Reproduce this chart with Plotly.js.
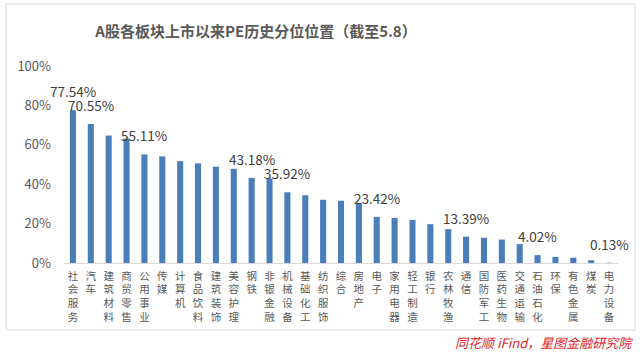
<!DOCTYPE html>
<html>
<head>
<meta charset="utf-8">
<script src="https://cdn.plot.ly/plotly-3.0.1.min.js"></script>
<style>
html,body{margin:0;padding:0;background:#fff;}
#chart{width:640px;height:354px;}
</style>
</head>
<body>
<div id="chart"></div>
<script>
// Data
const categories = ["社会服务","汽车","建筑材料","商贸零售","公用事业","传媒","计算机","食品饮料","建筑装饰","美容护理","钢铁","非银金融","机械设备","基础化工","纺织服饰","综合","房地产","电子","家用电器","轻工制造","银行","农林牧渔","通信","国防军工","医药生物","交通运输","石油石化","环保","有色金属","煤炭","电力设备"];
const peQuantile = [77.54,70.55,64.7,63.2,55.11,54.1,51.7,50.6,48.9,47.8,43.18,42.9,35.92,34.4,32.1,31.6,30.5,23.42,22.9,21.9,19.7,17.2,13.39,12.8,11.9,9.6,4.02,3.1,2.7,1.4,0.13];
const labeledCategories = ["社会服务","汽车","公用事业","钢铁","机械设备","电子","通信","石油石化","电力设备"];
const yTicks = [0,20,40,60,80,100];
const titleText = "A股各板块上市以来PE历史分位位置（截至5.8）";
const sourceText = "同花顺 iFind，星图金融研究院";

// Layout geometry (pixels)
const W = 640, H = 354;
const M = {l:64, r:22, t:66, b:91};
const pw = W - M.l - M.r, ph = H - M.t - M.b;
const px = x => (x - M.l) / pw;
const py = y => (H - M.b - y) / ph;

const FONT = '"Noto Sans CJK SC", "Noto Sans", sans-serif';

const annotations = labeledCategories.map(c => {
  const v = peQuantile[categories.indexOf(c)];
  return {
    x: c, y: v, xref: 'x', yref: 'y',
    text: v.toFixed(2) + '%',
    showarrow: false, yanchor: 'bottom', xanchor: 'center', yshift: 7,
    font: {family: FONT, size: 13.5, color: '#404040'}
  };
});
annotations.push({
  xref: 'paper', yref: 'paper', x: px(635), y: py(342),
  xanchor: 'right', yanchor: 'middle', showarrow: false,
  text: sourceText,
  font: {family: FONT, size: 13, color: '#e0262c', style: 'italic'}
});

const trace = {
  type: 'bar',
  x: categories,
  y: peQuantile,
  marker: {color: '#4a7ebb'},
  hoverinfo: 'x+y'
};

const layout = {
  width: W, height: H,
  margin: M,
  paper_bgcolor: '#fff', plot_bgcolor: '#fff',
  font: {family: FONT},
  showlegend: false,
  bargap: 0.66,
  title: {
    text: titleText,
    xref: 'container', yref: 'container',
    x: 256 / W, y: 1 - 32 / H, xanchor: 'center', yanchor: 'middle',
    font: {family: FONT, size: 15, color: '#595959', weight: 700}
  },
  xaxis: {
    type: 'category',
    autorange: false,
    range: [-0.5, categories.length - 0.5],
    tickmode: 'array',
    tickvals: categories,
    ticktext: categories.map(c => c.split('').join('<br>')),
    tickangle: 0,
    tickfont: {family: FONT, size: 10.5, color: '#595959'},
    showline: true, linecolor: '#d9d9d9', linewidth: 1,
    showgrid: false, zeroline: false, ticks: '',
    ticklabelstandoff: 3,
    automargin: false
  },
  yaxis: {
    autorange: false,
    range: [0, 100],
    tickmode: 'array',
    tickvals: yTicks,
    ticktext: yTicks.map(t => t + '%'),
    tickfont: {family: FONT, size: 13, color: '#595959'},
    showgrid: false, zeroline: false, showline: false, ticks: '',
    ticklabelstandoff: 12,
    automargin: false
  },
  shapes: [{
    type: 'rect', xref: 'paper', yref: 'paper',
    x0: px(6), x1: px(635), y0: py(330), y1: py(4),
    line: {color: '#d9d9d9', width: 1}, fillcolor: 'rgba(0,0,0,0)', layer: 'below'
  }],
  annotations: annotations
};

Plotly.newPlot('chart', [trace], layout, {displayModeBar: false, staticPlot: true});
</script>
</body>
</html>
